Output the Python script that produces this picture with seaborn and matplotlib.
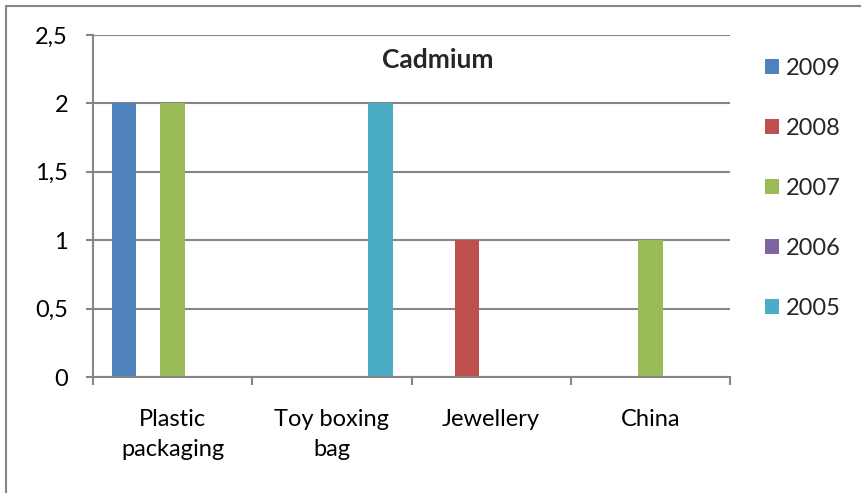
import matplotlib
matplotlib.use("Agg")
import matplotlib.pyplot as plt
import seaborn as sns
import pandas as pd
from matplotlib.patches import Rectangle

categories = ["Plastic\npackaging", "Toy boxing\nbag", "Jewellery", "China"]
years = ["2009", "2008", "2007", "2006", "2005"]
values_2009 = [2, 0, 0, 0]
values_2008 = [0, 0, 1, 0]
values_2007 = [2, 0, 0, 1]
values_2006 = [0, 0, 0, 0]
values_2005 = [0, 2, 0, 0]
y_ticks = [0, 0.5, 1, 1.5, 2, 2.5]
y_tick_labels = ["0", "0,5", "1", "1,5", "2", "2,5"]
colors = ["#4F81BD", "#C0504D", "#9BBB59", "#8064A2", "#4BACC6"]

series = [values_2009, values_2008, values_2007, values_2006, values_2005]
rows = []
for year, vals in zip(years, series):
    for cat, v in zip(categories, vals):
        rows.append({"category": cat, "year": year, "value": v})
df = pd.DataFrame(rows)

sns.set_style("white")
plt.rcParams["font.family"] = ["Lato", "DejaVu Sans"]

grey = "#868686"
fig = plt.figure(figsize=(8.61, 4.93), dpi=100)
ax = fig.add_axes([93 / 861, 1 - 377 / 493, (730 - 93) / 861, (377 - 35) / 493])

sns.barplot(data=df, x="category", y="value", hue="year", hue_order=years,
            palette=colors, width=0.766, saturation=1, linewidth=0,
            ax=ax, legend=True)

ax.set_xlim(-0.5, 3.5)
ax.set_ylim(0, 2.5)
ax.set_yticks(y_ticks)
ax.set_yticklabels(y_tick_labels)
ax.yaxis.grid(True, color=grey, linewidth=1.5)
ax.set_axisbelow(True)
ax.set_xlabel("")
ax.set_ylabel("")

for side in ["top", "right"]:
    ax.spines[side].set_visible(False)
for side in ["left", "bottom"]:
    ax.spines[side].set_color(grey)
    ax.spines[side].set_linewidth(1.5)

ax.tick_params(axis="y", left=True, length=5, width=1.5, color=grey,
               pad=13, labelsize=17, labelcolor="black")
ax.set_xticks([-0.5, 0.5, 1.5, 2.5, 3.5], minor=True)
ax.tick_params(axis="x", which="minor", bottom=True, length=6, width=1.5, color=grey)
ax.tick_params(axis="x", which="major", bottom=False, length=0, pad=23,
               labelsize=17, labelcolor="black")
for lbl in ax.get_xticklabels():
    lbl.set_linespacing(1.55)

handles, labels = ax.get_legend_handles_labels()
ax.legend(handles, labels, loc="upper left", bbox_to_anchor=(765 / 861, 1 - 58 / 493),
          bbox_transform=fig.transFigure, frameon=False, fontsize=17,
          handlelength=0.6, handleheight=0.6, handletextpad=0.3,
          labelspacing=1.65, borderaxespad=0, borderpad=0)

fig.text(438 / 861, 1 - 60 / 493, "Cadmium", ha="center", va="center",
         fontsize=19, fontweight="bold")

fig.patches.append(Rectangle((6 / 861, -0.1), 1.2, 1.1 - 6 / 493,
                             transform=fig.transFigure, fill=False,
                             edgecolor=grey, linewidth=1.5))

fig.savefig("out.png", dpi=100)
